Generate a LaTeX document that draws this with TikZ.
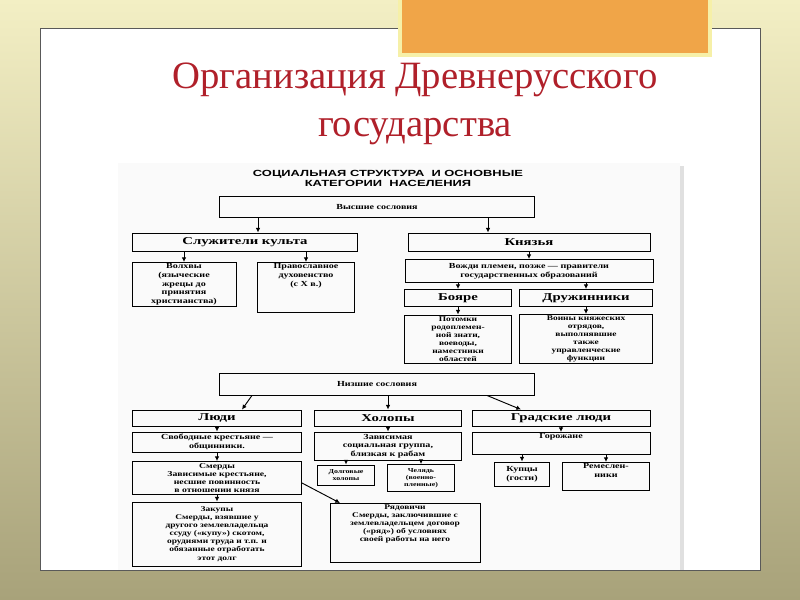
\documentclass[tikz,border=0pt]{standalone}
\usepackage{fontspec}
\setmainfont{Liberation Serif}
\newfontfamily\headfont[FakeStretch=1.45]{Liberation Sans}
\newfontfamily\boxfont[FakeStretch=1.3]{Liberation Serif}
\newfontfamily\bigfont[FakeStretch=1.4]{Liberation Serif}
\usetikzlibrary{arrows.meta}
\newcommand\pxu{0.03cm}
\definecolor{slidetop}{HTML}{F3EFC4}
\definecolor{slidebot}{HTML}{A8A27A}
\definecolor{tabfill}{HTML}{F0A548}
\definecolor{tabedge}{HTML}{F6F0A8}
\definecolor{titlered}{HTML}{B0202A}
\tikzset{
  box/.style={draw, thick, align=center, inner sep=1pt, font=\boxfont\bfseries\fontsize{6.6}{7.4}\selectfont},
  bigbox/.style={box, font=\bigfont\bfseries\fontsize{9}{10}\selectfont},
  arr/.style={-{Latex[length=4pt,width=4pt]}, thick}
}
\begin{document}
\begin{tikzpicture}[x=0.03cm, y=-0.03cm]
    \useasboundingbox (0,0) rectangle (800,600);
    \clip (0,0) rectangle (800,600);
    % slide background
    \shade[top color=slidetop, bottom color=slidebot] (0,0) rectangle (800,600);
    \draw[gray!70!black, fill=white] (40,28) rectangle (760,570);
    \draw[tabedge, line width=3pt, fill=tabfill] (400,-5) rectangle (710,55);
    \node[text=titlered, font=\fontsize{33}{41}\selectfont, align=center] (title) at (415,104) {Организация Древнерусского\\государства};
    % scanned sheet
    \fill[black!12] (121,166) rectangle (684,570);
    \fill[black!2] (118,163) rectangle (680,570);
    \node[font=\headfont\bfseries\fontsize{7.6}{8.6}\selectfont, align=center] (head) at (388,178) {СОЦИАЛЬНАЯ СТРУКТУРА\ \ И ОСНОВНЫЕ\\КАТЕГОРИИ\ \ НАСЕЛЕНИЯ};

    % upper estates
    \node[box, minimum width=315*\pxu, minimum height=21*\pxu] (vys) at (377,207) {Высшие сословия};
    \node[bigbox, minimum width=225*\pxu, minimum height=18*\pxu] (kult) at (245,242) {Служители культа};
    \node[bigbox, minimum width=242*\pxu, minimum height=18*\pxu] (kn) at (529,242) {Князья};
    \node[box, minimum width=104*\pxu, minimum height=44*\pxu, anchor=north] (volh) at (184,262) {Волхвы\\(языческие\\жрецы до\\принятия\\христианства)};
    \node[box, minimum width=97*\pxu, minimum height=44*\pxu, anchor=north] (prav) at (306,262) {Православное\\духовенство\\(с X в.)\\[14pt]};
    \node[box, minimum width=248*\pxu, minimum height=23*\pxu] (vozhd) at (529,271) {Вожди племен, позже — правители\\государственных образований};
    \node[bigbox, minimum width=107*\pxu, minimum height=17*\pxu] (boy) at (458,298) {Бояре};
    \node[bigbox, minimum width=133*\pxu, minimum height=17*\pxu] (dru) at (586,298) {Дружинники};
    \node[box, minimum width=107*\pxu, minimum height=48*\pxu, font=\boxfont\bfseries\fontsize{6.2}{6.9}\selectfont] (pot) at (458,339) {Потомки\\родоплемен-\\ной знати,\\воеводы,\\наместники\\областей};
    \node[box, minimum width=133*\pxu, minimum height=48*\pxu, font=\boxfont\bfseries\fontsize{6.2}{6.9}\selectfont] (voin) at (586,339) {Воины княжеских\\отрядов,\\выполнявшие\\также\\управленческие\\функции};

    % lower estates
    \node[box, minimum width=315*\pxu, minimum height=22*\pxu] (niz) at (377,384) {Низшие сословия};
    \node[bigbox, minimum width=169*\pxu, minimum height=16*\pxu] (lyu) at (217,418) {Люди};
    \node[bigbox, minimum width=147*\pxu, minimum height=16*\pxu] (hol) at (388,418) {Холопы};
    \node[bigbox, minimum width=178*\pxu, minimum height=16*\pxu] (grad) at (561,418) {Градские люди};
    \node[box, minimum width=169*\pxu, minimum height=20*\pxu] (svob) at (217,442) {Свободные крестьяне —\\общинники.};
    \node[box, minimum width=147*\pxu, minimum height=28*\pxu] (zav) at (388,446) {Зависимая\\социальная группа,\\близкая к рабам};
    \node[box, minimum width=178*\pxu, minimum height=20*\pxu, anchor=north] (gor) at (561,432) {Горожане\\[5pt]};
    \node[box, minimum width=169*\pxu, minimum height=33*\pxu, font=\boxfont\bfseries\fontsize{6.4}{7}\selectfont] (smer) at (217,478) {Смерды\\Зависимые крестьяне,\\несшие повинность\\в отношении князя};
    \node[box, minimum width=57*\pxu, minimum height=20*\pxu, font=\boxfont\bfseries\fontsize{5.2}{6.2}\selectfont] (dolg) at (346,475) {Долговые\\холопы};
    \node[box, minimum width=67*\pxu, minimum height=27*\pxu, font=\boxfont\bfseries\fontsize{5.2}{6.2}\selectfont] (chel) at (421,478) {Челядь\\(военно-\\пленные)};
    \node[box, minimum width=55*\pxu, minimum height=24*\pxu] (kup) at (522,474) {Купцы\\(гости)};
    \node[box, minimum width=87*\pxu, minimum height=24*\pxu, anchor=north] (rem) at (606,462) {Ремеслен-\\ники\\[3pt]};
    \node[box, minimum width=169*\pxu, minimum height=64*\pxu, font=\boxfont\bfseries\fontsize{6.2}{6.9}\selectfont] (zak) at (217,534) {Закупы\\Смерды, взявшие у\\другого землевладельца\\ссуду («купу») скотом,\\орудиями труда и т.п. и\\обязанные отработать\\этот долг};
    \node[box, minimum width=150*\pxu, minimum height=56*\pxu, anchor=north, font=\boxfont\bfseries\fontsize{6.2}{6.9}\selectfont] (ryad) at (405,503) {Рядовичи\\Смерды, заключившие с\\землевладельцем договор\\(«ряд») об условиях\\своей работы на него\\[10pt]};

    % connectors
    \draw[arr] ([xshift=13*\pxu]vys.south -| kult.north) -- ([xshift=13*\pxu]kult.north);
    \draw[arr] ([xshift=-41*\pxu]vys.south -| kn.north) -- ([xshift=-41*\pxu]kn.north);
    \draw[arr] (kult.south -| volh.north) -- (volh.north);
    \draw[arr] (kult.south -| prav.north) -- (prav.north);
    \draw[arr] (kn.south) -- (vozhd.north);
    \draw[arr] (vozhd.south -| boy.north) -- (boy.north);
    \draw[arr] (vozhd.south -| dru.north) -- (dru.north);
    \draw[arr] (boy.south) -- (pot.north);
    \draw[arr] (dru.south) -- (voin.north);
    \draw[arr] ([xshift=-125*\pxu]niz.south) -- ([xshift=25*\pxu]lyu.north);
    \draw[arr] (niz.south -| hol.north) -- (hol.north);
    \draw[arr] ([xshift=110*\pxu]niz.south) -- ([xshift=-40*\pxu]grad.north);
    \draw[arr] (lyu.south) -- (svob.north);
    \draw[arr] (svob.south) -- (smer.north);
    \draw[arr] (smer.south) -- (zak.north);
    \draw[arr] (smer.east) ++(0,-5*\pxu) -- ([xshift=-65*\pxu]ryad.north);
    \draw[arr] (hol.south) -- (zav.north);
    \draw[arr] (zav.south -| dolg.north) -- (dolg.north);
    \draw[arr] (zav.south -| chel.north) -- (chel.north);
    \draw[arr] (grad.south) -- (gor.north);
    \draw[arr] (gor.south -| kup.north) -- (kup.north);
    \draw[arr] (gor.south -| rem.north) -- (rem.north);
\end{tikzpicture}
\end{document}
